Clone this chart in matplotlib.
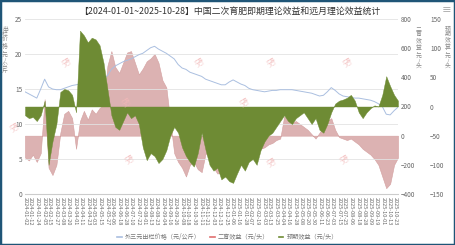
import pandas as pd
import matplotlib
matplotlib.use('Agg')
import matplotlib.pyplot as plt
from matplotlib.lines import Line2D
from matplotlib.patches import Rectangle

plt.rcParams['font.family'] = ['Noto Sans CJK SC', 'DejaVu Sans']

# 每周一个点
dates = pd.date_range('2024-01-02', periods=96, freq='7D')

price = [14.6, 14.3, 14.0, 13.7, 15.0, 16.4, 15.3, 15.0, 14.9, 14.9,
         15.1, 15.3, 15.5, 15.6, 15.7, 15.8, 15.9, 16.0, 16.2, 16.4,
         16.6, 16.9, 17.8, 18.3, 18.6, 18.9, 19.1, 19.3, 19.6, 19.9,
         20.1, 20.5, 20.9, 21.1, 20.7, 20.4, 20.1, 19.7, 19.3, 18.5,
         18.0, 17.8, 17.4, 17.2, 17.0, 16.8, 16.4, 16.2, 16.0, 15.8,
         15.6, 15.6, 16.0, 16.3, 16.0, 15.7, 15.5, 15.1, 14.9, 14.8,
         14.7, 14.6, 14.7, 14.8, 14.8, 14.9, 14.9, 14.9, 14.9, 14.8,
         14.7, 14.6, 14.5, 14.4, 14.2, 14.0, 14.1, 14.6, 15.2, 14.8,
         14.3, 14.0, 13.9, 13.8, 13.7, 13.7, 13.6, 13.5, 13.4, 13.2,
         12.9, 12.5, 11.4, 11.3, 11.9, 12.4]

profit2 = [-150, -170, -130, -180, -120, 250, -220, -270, -200, 20,
           150, 170, 120, -90, 100, 170, 110, 180, 150, 190,
           210, 480, 580, 470, 430, 500, 570, 580, 500, 420,
           460, 510, 530, 560, 500, 380, 330, 100, -120, -180,
           -220, -280, -200, -180, -230, -250, -120, -150, -220, -260,
           -250, -280, -300, -250, -220, -200, -180, -150, -100, -110,
           -90, -80, -60, -50, -30, -20, 130, 110, 90, 100,
           80, 60, 40, 10, -20, 20, 60, 100, 120, 40,
           -10, -20, -30, -20, -40, -60, -90, -110, -130, -160,
           -200, -280, -360, -330, -200, -150]

expect = [-15, -20, -18, -25, -15, 10, -100, -60, -30, 25,
          30, 28, 20, -10, 130, 122, 110, 118, 115, 105,
          75, 30, -15, -35, -40, -25, -10, -20, -15, -30,
          -70, -92, -80, -85, -97, -90, -75, -50, -35, -45,
          -70, -85, -95, -103, -80, -45, -75, -100, -110, -105,
          -125, -120, -128, -131, -115, -100, -110, -95, -90, -100,
          -75, -60, -50, -45, -35, -25, -15, -25, -30, -20,
          -15, -10, -20, -30, -20, -40, -45, -30, -10, 5,
          10, 12, 15, 20, 10, -10, -20, -10, -3, 2,
          0, 20, 52, 35, 20, 10]

tick_dates = pd.bdate_range('2024-01-02', '2025-10-28')[::8]

# 水印位置 (像素)
wm_x = [15, 67, 127, 200, 245, 272, 348, 130, 272, 345]
wm_y = [128, 63, 103, 63, 103, 63, 63, 160, 163, 160]

c_blue = '#aabfe0'
c_pink = '#dcb2b2'
c_green = '#6e8b34'
c_txt = '#666666'

fig = plt.figure(figsize=(4.55, 2.45), dpi=100)
ax_p = fig.add_axes([25 / 455, 1 - 194 / 245, 373 / 455, 175 / 245])
ax_b = ax_p.twinx()
ax_g = ax_p.twinx()

# 二育效益 (底层)
ax_p.fill_between(dates, 0, profit2, color=c_pink, lw=0.4, edgecolor='#d4a0a0')
ax_p.set_ylim(-400, 800)
ax_p.set_yticks(range(-400, 801, 200))
ax_p.yaxis.tick_right()

# 出栏价格
ax_b.plot(dates, price, color=c_blue, lw=0.7)
ax_b.set_ylim(0, 25)
ax_b.set_yticks(range(0, 26, 5))
ax_b.yaxis.tick_left()
ax_b.grid(axis='y', color='#e3e3e3', lw=0.6)

# 预期效益
ax_g.fill_between(dates, 0, expect, color=c_green, lw=0.3)
ax_g.set_ylim(-150, 150)
ax_g.set_yticks(range(-150, 151, 50))
ax_g.spines['right'].set_position(('outward', 21))

ax_p.set_xlim(dates[0], pd.Timestamp('2025-10-28'))
ax_p.set_xticks(tick_dates)
ax_p.set_xticklabels([d.strftime('%Y-%m-%d') for d in tick_dates],
                     rotation=-90, fontsize=4, color=c_txt)
ax_p.tick_params(axis='x', length=0, pad=2)

for a in (ax_p, ax_b, ax_g):
    for s in ('top', 'left', 'right'):
        a.spines[s].set_visible(False)
    a.spines['bottom'].set_visible(a is ax_p)
    a.tick_params(axis='y', length=0, labelsize=4.6, labelcolor=c_txt, pad=2)
ax_p.spines['bottom'].set_color('#cccccc')
ax_p.spines['bottom'].set_linewidth(0.8)

for x, y in zip(wm_x, wm_y):
    fig.text(x / 455, 1 - y / 245, '汇易\n.JCI', ha='center', va='center', rotation=30,
             fontsize=3.6, color='#f2b8b8', alpha=0.8, linespacing=0.9)

fig.text(0.505, 0.955, '【2024-01-01~2025-10-28】中国二次育肥即期理论效益和远月理论效益统计',
         ha='center', va='center', fontsize=6.4, color='#333333')
fig.text(5 / 455, 1 - 27 / 245, '\n'.join('出栏价格：元/公斤'), ha='center', va='top',
         fontsize=4.2, color='#888888', linespacing=1.0)
fig.text(419 / 455, 1 - 27 / 245, '\n'.join('二育效益：元/头'), ha='center', va='top',
         fontsize=4.2, color='#888888', linespacing=1.0)
fig.text(448 / 455, 1 - 27 / 245, '\n'.join('预期效益：元/头'), ha='center', va='top',
         fontsize=4.2, color='#888888', linespacing=1.0)
fig.text(447 / 455, 1 - 9 / 245, '≡', ha='center', va='center', fontsize=7, color='#999999')

handles = [Line2D([], [], color=c_blue, lw=1.2),
           Line2D([], [], color='#e07070', lw=1.2),
           Line2D([], [], color=c_green, lw=1.2)]
fig.legend(handles, ['外三元出栏价格（元/公斤）', '二育效益（元/头）', '预期效益（元/头）'],
           loc='center', bbox_to_anchor=(0.5, 1 - 237 / 245), ncol=3, frameon=False,
           fontsize=4.4, handlelength=0.8, handletextpad=0.5, columnspacing=1.5,
           labelcolor='#777777')

fig.patches.append(Rectangle((0, 0), 1, 1, transform=fig.transFigure, fill=False,
                             edgecolor='#1f5577', lw=2.5))

fig.savefig('out.png', dpi=100)
